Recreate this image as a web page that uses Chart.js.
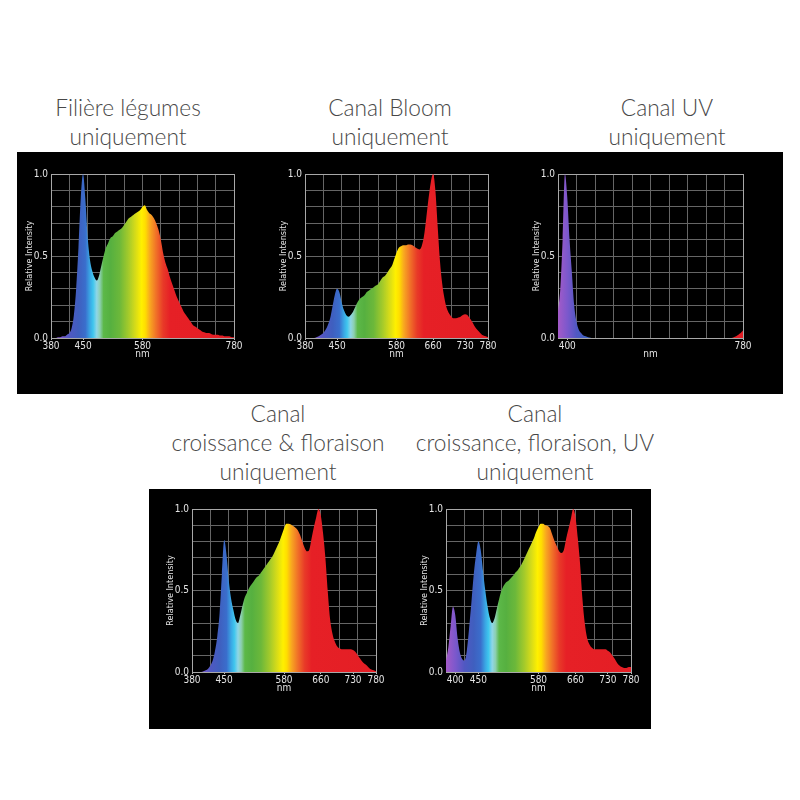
<!DOCTYPE html>
<html lang="fr">
<head>
<meta charset="UTF-8">
<title>Spectres par canal</title>
<style>
  body { margin: 0; background: #fff; }
  #page { position: relative; width: 800px; height: 800px; background: #fff; overflow: hidden; }
  .band { position: absolute; background: #000; }
  .title {
    position: absolute; text-align: center; color: #484848;
    font-family: Lato, "Open Sans", sans-serif; font-weight: 300;
    font-size: 22.7px; line-height: 29px; white-space: nowrap;
  }
  canvas { position: absolute; }
</style>
</head>
<body>
<div id="page">
  <div class="band" style="left:17px;top:152px;width:766px;height:242px"></div>
  <div class="band" style="left:149px;top:489px;width:502px;height:240px"></div>

  <div class="title" style="left:28px;top:93px;width:200px">Filière légumes<br>uniquement</div>
  <div class="title" style="left:290px;top:93px;width:200px">Canal Bloom<br>uniquement</div>
  <div class="title" style="left:567px;top:93px;width:200px">Canal UV<br>uniquement</div>
  <div class="title" style="left:148px;top:399px;width:260px">Canal<br>croissance &amp; floraison<br>uniquement</div>
  <div class="title" style="left:400px;top:399px;width:270px">Canal<br>croissance, floraison, UV<br>uniquement</div>

  <canvas id="c1" width="233" height="199" style="left:15px;top:165px"></canvas>
  <canvas id="c2" width="233" height="199" style="left:269px;top:165px"></canvas>
  <canvas id="c3" width="235" height="199" style="left:522px;top:165px"></canvas>
  <canvas id="c4" width="234" height="198" style="left:156px;top:500px"></canvas>
  <canvas id="c5" width="235" height="198" style="left:410px;top:500px"></canvas>
</div>

<script src="https://cdn.jsdelivr.net/npm/chart.js"></script>
<script>
// wavelengths (nm), 5 nm steps from 380 to 780
const wavelengths = [380,385,390,395,400,405,410,415,420,425,430,435,440,445,450,455,460,465,470,475,
  480,485,490,495,500,505,510,515,520,525,530,535,540,545,550,555,560,565,570,575,
  580,585,590,595,600,605,610,615,620,625,630,635,640,645,650,655,660,665,670,675,
  680,685,690,695,700,705,710,715,720,725,730,735,740,745,750,755,760,765,770,775,780];

// relative intensity
const filiereLegumes = [0,0,0,0.005,0.005,0.01,0.01,0.02,0.03,0.06,0.14,0.3,0.55,0.85,1.0,0.85,0.62,0.48,0.41,0.37,
  0.35,0.38,0.44,0.5,0.55,0.58,0.61,0.62,0.64,0.65,0.66,0.67,0.69,0.71,0.73,0.74,0.75,0.76,0.77,0.78,
  0.8,0.81,0.78,0.76,0.75,0.73,0.7,0.66,0.6,0.52,0.46,0.42,0.37,0.33,0.29,0.25,0.22,0.19,0.16,0.14,
  0.12,0.1,0.08,0.07,0.06,0.05,0.04,0.035,0.03,0.03,0.025,0.02,0.02,0.02,0.015,0.015,0.01,0.01,0.01,0.005,0.005];

const canalBloom = [0,0,0,0,0,0.005,0.01,0.02,0.03,0.05,0.08,0.12,0.19,0.26,0.3,0.28,0.22,0.17,0.14,0.13,
  0.14,0.16,0.19,0.22,0.24,0.25,0.26,0.28,0.29,0.3,0.31,0.32,0.33,0.35,0.37,0.38,0.4,0.42,0.44,0.48,
  0.52,0.55,0.56,0.565,0.565,0.57,0.57,0.565,0.555,0.545,0.54,0.56,0.62,0.73,0.85,0.95,1.0,0.9,0.68,0.47,
  0.33,0.24,0.18,0.15,0.13,0.12,0.12,0.125,0.13,0.14,0.145,0.14,0.12,0.1,0.075,0.055,0.04,0.025,0.015,0.01,0.005];

const canalUV = [0.16,0.3,0.6,1.0,0.86,0.6,0.4,0.2,0.1,0.05,0.03,0.015,0.01,0.005,0.002,0,0,0,0,0,
  0,0,0,0,0,0,0,0,0,0,0,0,0,0,0,0,0,0,0,0,
  0,0,0,0,0,0,0,0,0,0,0,0,0,0,0,0,0,0,0,0,
  0,0,0,0,0,0,0,0,0,0,0,0,0,0,0,0,0.005,0.01,0.02,0.03,0.045];

const croissanceFloraison = [0,0,0,0,0,0.005,0.01,0.02,0.04,0.07,0.13,0.22,0.36,0.6,0.81,0.72,0.56,0.45,0.38,0.32,
  0.3,0.35,0.41,0.46,0.49,0.52,0.54,0.56,0.58,0.59,0.61,0.63,0.65,0.67,0.69,0.71,0.74,0.77,0.8,0.84,
  0.88,0.91,0.91,0.905,0.895,0.885,0.87,0.84,0.8,0.76,0.74,0.75,0.82,0.89,0.95,1.0,0.96,0.85,0.7,0.5,
  0.33,0.24,0.19,0.16,0.145,0.14,0.14,0.14,0.14,0.14,0.135,0.125,0.105,0.085,0.065,0.05,0.04,0.025,0.015,0.01,0.005];

const croissanceFloraisonUV = [0.07,0.15,0.28,0.4,0.35,0.21,0.12,0.08,0.07,0.13,0.27,0.43,0.6,0.72,0.8,0.75,0.62,0.5,0.4,0.33,
  0.3,0.33,0.39,0.45,0.5,0.53,0.55,0.56,0.575,0.59,0.61,0.625,0.645,0.67,0.7,0.73,0.76,0.79,0.82,0.86,
  0.89,0.91,0.91,0.9,0.895,0.88,0.84,0.8,0.77,0.74,0.73,0.75,0.82,0.88,0.94,1.0,0.95,0.82,0.66,0.45,
  0.3,0.21,0.17,0.15,0.14,0.14,0.14,0.14,0.14,0.14,0.13,0.12,0.1,0.08,0.055,0.04,0.03,0.025,0.025,0.03,0.03];

// x tick labels shown under each chart
const labelsFull = [380,450,580,660,730,780];
const labelsLegumes = [380,450,580,780];
const labelsUV = [400,780];
const labelsUVMix = [400,450,580,660,730,780];

// grid lines every 40 nm, every 0.1 intensity
const gridNm = [380,420,460,500,540,580,620,660,700,740,780];
const yLabels = [0,0.5,1];

// colour of the fill along the wavelength axis
const spectrumStops = [
  [380,'#a45ac8'],[400,'#7c58cc'],[420,'#5058c2'],[440,'#3f5fbf'],[455,'#3a6ecc'],
  [465,'#3aa6e4'],[472,'#3fc6ee'],[480,'#8fd6e6'],[487,'#8ccfb0'],[495,'#5cb848'],
  [510,'#56b040'],[530,'#6cb83a'],[550,'#a6cb2a'],[565,'#d8dc18'],[578,'#fff000'],
  [586,'#ffde00'],[596,'#f8a820'],[610,'#f07028'],[625,'#e83a28'],[640,'#e62026'],[780,'#e41e25']
];

Chart.defaults.font.family = '"Liberation Sans Narrow", "DejaVu Sans Condensed", "Liberation Sans", sans-serif';
Chart.defaults.color = '#e4e4e4';

function spectrumFill(context) {
  const chart = context.chart;
  const area = chart.chartArea;
  if (!area) return 'rgba(0,0,0,0)';
  const g = chart.ctx.createLinearGradient(area.left, 0, area.right, 0);
  spectrumStops.forEach(s => g.addColorStop((s[0] - 380) / 400, s[1]));
  return g;
}

function makeChart(id, values, shownLabels) {
  const allTicks = Array.from(new Set(gridNm.concat(shownLabels))).sort((a, b) => a - b);
  return new Chart(document.getElementById(id), {
    type: 'line',
    data: {
      datasets: [{
        data: wavelengths.map((nm, i) => ({ x: nm, y: values[i] })),
        fill: 'origin',
        backgroundColor: spectrumFill,
        borderWidth: 0,
        pointRadius: 0,
        cubicInterpolationMode: 'monotone'
      }]
    },
    options: {
      responsive: false,
      animation: false,
      layout: { padding: { top: 8, right: 14, left: 0, bottom: 0 } },
      plugins: { legend: { display: false }, tooltip: { enabled: false } },
      scales: {
        x: {
          type: 'linear', min: 380, max: 780,
          afterBuildTicks: s => { s.ticks = allTicks.map(v => ({ value: v })); },
          afterFit: s => { s.height = 26; },
          ticks: {
            autoSkip: false, maxRotation: 0, padding: 0,
            font: { size: 10 },
            callback: v => shownLabels.includes(v) ? String(v) : ''
          },
          grid: {
            tickLength: 2,
            color: c => (c.tick && gridNm.includes(c.tick.value)) ? (c.tick.value === 780 ? '#a8a8a8' : '#666666') : 'rgba(0,0,0,0)',
            tickColor: c => (c.tick && shownLabels.includes(c.tick.value)) ? '#bbbbbb' : 'rgba(0,0,0,0)'
          },
          border: { color: '#a8a8a8' },
          title: { display: true, text: 'nm', font: { size: 10 }, padding: { top: 0, bottom: 4 } }
        },
        y: {
          min: 0, max: 1,
          afterFit: s => { s.width = 36; },
          ticks: {
            stepSize: 0.1, padding: 3, autoSkip: false,
            font: { size: 10 },
            callback: v => yLabels.some(t => Math.abs(t - v) < 1e-6) ? v.toFixed(1) : ''
          },
          grid: {
            drawTicks: false,
            color: c => (c.tick && c.tick.value > 0.999) ? '#a8a8a8' : '#666666'
          },
          border: { color: '#a8a8a8' },
          title: { display: true, text: 'Relative Intensity', font: { size: 9 }, padding: { top: 9, bottom: 0 } }
        }
      }
    }
  });
}

makeChart('c1', filiereLegumes, labelsLegumes);
makeChart('c2', canalBloom, labelsFull);
makeChart('c3', canalUV, labelsUV);
makeChart('c4', croissanceFloraison, labelsFull);
makeChart('c5', croissanceFloraisonUV, labelsUVMix);
</script>
</body>
</html>
